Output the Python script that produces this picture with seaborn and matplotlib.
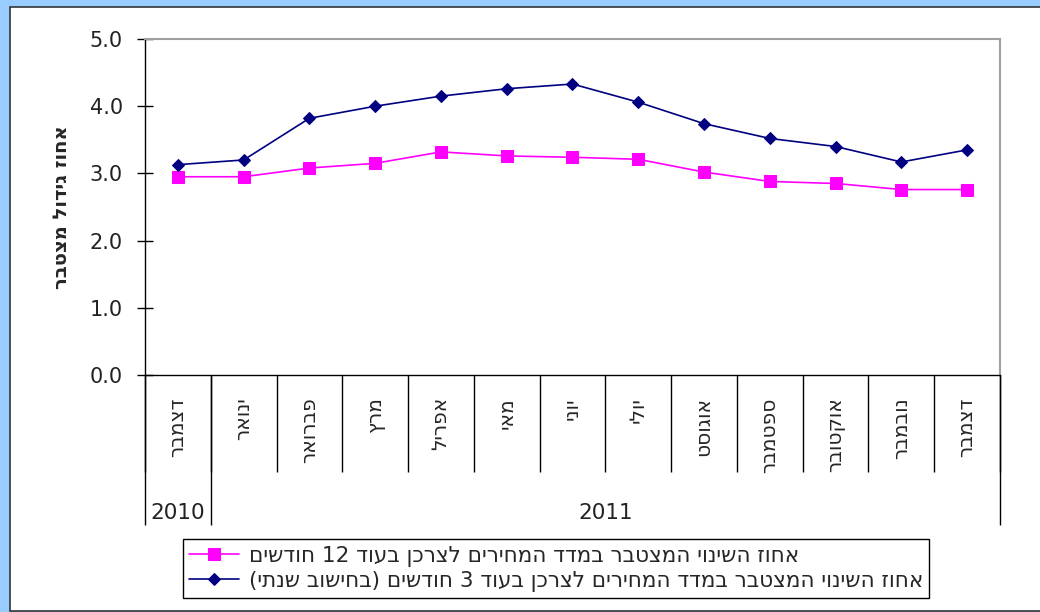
import re
import numpy as np
import pandas as pd
import matplotlib
matplotlib.use("Agg")
import matplotlib.pyplot as plt
import seaborn as sns
from matplotlib.patches import Rectangle

months = ["דצמבר", "ינואר", "פברואר", "מרץ", "אפריל", "מאי", "יוני",
          "יולי", "אוגוסט", "ספטמבר", "אוקטובר", "נובמבר", "דצמבר"]
years = ["2010"] + ["2011"] * 12

cpi_12m = [2.95, 2.95, 3.08, 3.15, 3.32, 3.26, 3.24, 3.21, 3.02, 2.88, 2.85, 2.76, 2.76]
cpi_3m = [3.13, 3.20, 3.82, 4.00, 4.15, 4.26, 4.33, 4.06, 3.74, 3.52, 3.40, 3.17, 3.35]

label_12m = "אחוז השינוי המצטבר במדד המחירים לצרכן בעוד 12 חודשים"
label_3m = "אחוז השינוי המצטבר במדד המחירים לצרכן בעוד 3 חודשים (בחישוב שנתי)"
ylabel = "אחוז גידול מצטבר"


def vis(s):
    # matplotlib has no bidi: flip to visual order, keep numbers, mirror brackets
    r = s[::-1]
    r = re.sub(r"\d+", lambda m: m.group(0)[::-1], r)
    return r.translate(str.maketrans("()", ")("))


sns.set_style("white")
plt.rcParams["font.family"] = ["DejaVu Sans"]

df = pd.DataFrame({"pos": np.arange(len(months)), "m12": cpi_12m, "m3": cpi_3m})

fig = plt.figure(figsize=(10.4, 6.12), dpi=100, facecolor="#99CCFF")
fig.patches.append(Rectangle((10 / 1040, 1 / 612), 1.1, 604 / 612, transform=fig.transFigure,
                             facecolor="white", edgecolor="#333333", lw=1.2, zorder=-1))

ax = fig.add_axes([145 / 1040, 1 - 375 / 612, 855 / 1040, 336 / 612])

sns.lineplot(data=df, x="pos", y="m12", marker="s", markersize=8, color="#FF00FF",
             markeredgecolor="#FF00FF", lw=1.2, ax=ax, label=vis(label_12m))
sns.lineplot(data=df, x="pos", y="m3", marker="D", markersize=6.5, color="#000080",
             markeredgecolor="#000080", lw=1.2, ax=ax, label=vis(label_3m))

ax.set_xlim(-0.5, len(months) - 0.5)
ax.set_ylim(0, 5)
ax.set_yticks(np.arange(0, 5.1, 1))
ax.yaxis.set_major_formatter("{x:.1f}")
ax.tick_params(axis="y", left=True, direction="inout", length=12, width=1, labelsize=15,
               pad=10, colors="black", labelcolor="#222222")

ax.set_xticks(df["pos"])
ax.set_xticklabels([vis(m) for m in months], rotation=90, va="top", ha="center", fontsize=14.5)
ax.tick_params(axis="x", which="major", length=0, pad=16)
ax.set_xticks(np.arange(-0.5, len(months)), minor=True)
ax.tick_params(axis="x", which="minor", bottom=True, direction="out", length=70, width=1, color="black")

# year groups under the months
trans = ax.get_xaxis_transform()
yrs = pd.Series(years)
starts = yrs.index[yrs != yrs.shift()].tolist()
ends = starts[1:] + [len(years)]
bounds = sorted(set([s - 0.5 for s in starts] + [e - 0.5 for e in ends]))
ax.vlines(bounds, -0.446, 0, transform=trans, clip_on=False, color="black", lw=1)
for s, e in zip(starts, ends):
    ax.text((s + e - 1) / 2, -0.411, years[s], transform=trans, ha="center", va="center",
            fontsize=15.5, color="#222222")

ax.set_xlabel("")
ax.set_ylabel(vis(ylabel), fontweight="bold", fontsize=14)
ax.yaxis.set_label_coords(-0.087, 0.5)

for side in ["left", "bottom"]:
    ax.spines[side].set_color("black")
    ax.spines[side].set_linewidth(1)
for side in ["top", "right"]:
    ax.spines[side].set_color("#A0A0A0")
    ax.spines[side].set_linewidth(1.5)

leg = ax.legend(loc="lower left", bbox_to_anchor=(183 / 1040, 14 / 612), bbox_transform=fig.transFigure,
                frameon=True, fancybox=False, edgecolor="black", framealpha=1, fontsize=15.5,
                handlelength=2.3, borderpad=0.3, labelspacing=0.18, handletextpad=0.45, borderaxespad=0)
leg.get_frame().set_linewidth(1)

fig.savefig("out.png", dpi=100, facecolor=fig.get_facecolor())
